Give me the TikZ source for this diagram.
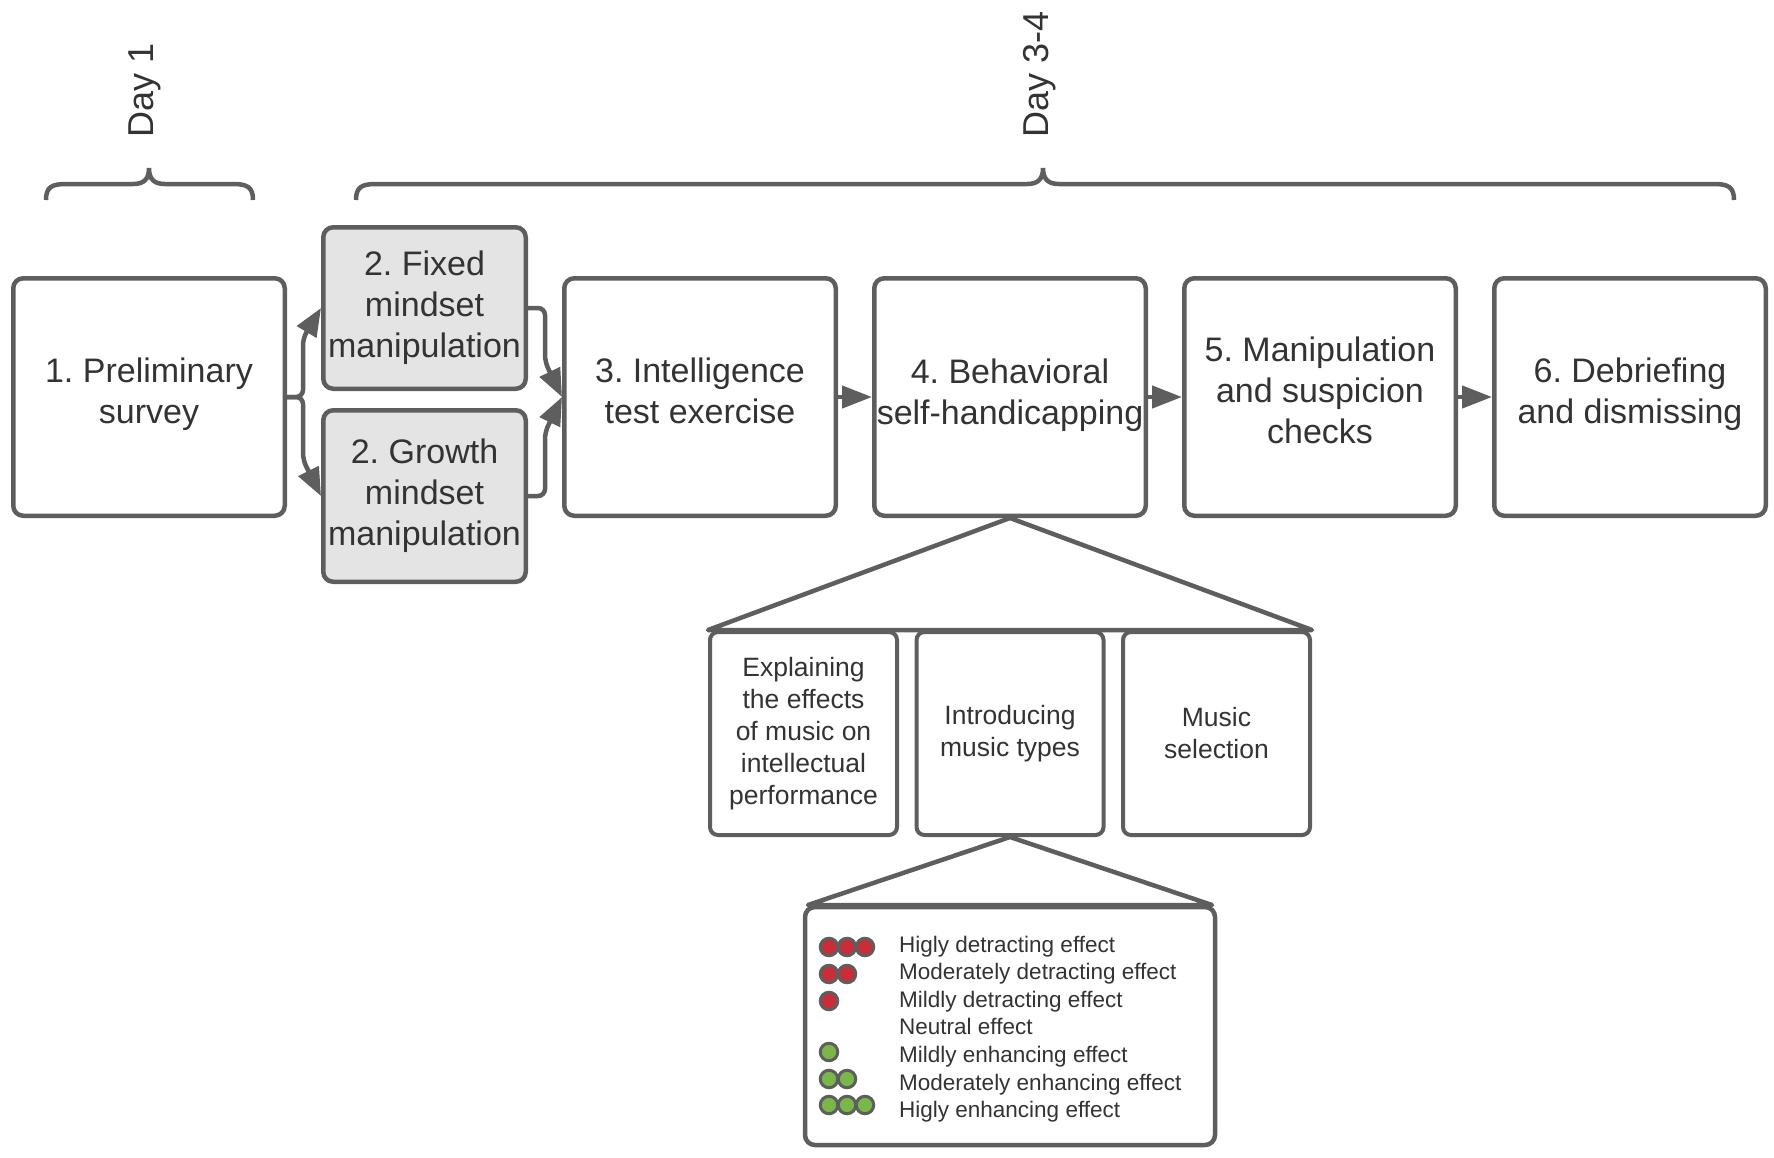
\documentclass[tikz,border=0pt]{standalone}
\usepackage{fontspec}
\setmainfont{Liberation Sans}
\usetikzlibrary{arrows.meta}
\frenchspacing
\definecolor{ln}{HTML}{5E5E5E}
\definecolor{tx}{HTML}{333333}
\definecolor{gfill}{HTML}{E4E4E4}
\definecolor{rdot}{HTML}{C92D39}
\definecolor{gdot}{HTML}{7AB648}
\newcommand{\boxlines}[2][5pt]{\raisebox{0pt}[\height][\dimexpr\depth+#1\relax]{\begin{tabular}{@{}c@{}}#2\end{tabular}}}
\begin{document}
\begin{tikzpicture}[x=1pt,y=-1pt,
  mainbox/.style={draw=ln, line width=4.5pt, rounded corners=10pt, fill=white, text=tx, align=center,
    font=\fontsize{34}{41}\selectfont, inner sep=0pt, minimum width=271.5pt, minimum height=237.5pt},
  manbox/.style={mainbox, fill=gfill, minimum width=202.5pt},
  subbox/.style={draw=ln, line width=4pt, rounded corners=8pt, fill=white, text=tx, align=center,
    font=\fontsize{26.5}{32}\selectfont, inner sep=0pt, minimum width=187pt, minimum height=203pt},
  legbox/.style={draw=ln, line width=4.5pt, rounded corners=10pt, fill=white, inner sep=0pt,
    minimum width=410pt, minimum height=238pt},
  daytext/.style={text=tx, font=\fontsize{36}{40}\selectfont, rotate=90, anchor=west, inner sep=0pt},
  legtext/.style={text=tx, font=\fontsize{22.5}{27}\selectfont, anchor=base west, inner sep=0pt},
  brace/.style={draw=ln, line width=4.5pt},
  conn/.style={draw=ln, line width=4.5pt, -{Triangle[length=30pt,width=22pt]}},
  sconn/.style={draw=ln, line width=4.5pt, rounded corners=7pt, -{Triangle[length=28pt,width=22pt]}},
  link/.style={draw=ln, line width=4.5pt},
  rd/.style={circle, draw=ln, line width=3pt, fill=rdot, minimum size=17.5pt, inner sep=0pt},
  gd/.style={circle, draw=ln, line width=3pt, fill=gdot, minimum size=17.5pt, inner sep=0pt}
]
\useasboundingbox (0,0) rectangle (1774,1157);

% day labels and braces
\node[daytext] (day1) at (145,138) {Day 1};
\node[daytext] (day34) at (1040,138) {Day 3-4};
\draw[brace] (46,200) .. controls (46,187) and (52,184) .. (66,184) -- (133,184)
  .. controls (143,184) and (149,180) .. (149,168)
  .. controls (149,180) and (155,184) .. (165,184) -- (233,184)
  .. controls (247,184) and (253,187) .. (253,200);
\draw[brace] (356,200) .. controls (356,187) and (362,184) .. (376,184) -- (1027,184)
  .. controls (1037,184) and (1043,180) .. (1043,168)
  .. controls (1043,180) and (1049,184) .. (1059,184) -- (1714,184)
  .. controls (1728,184) and (1734,187) .. (1734,200);

% triangles (drawn first, boxes on top)
\coordinate (t1l) at (708,630);
\coordinate (t1r) at (1312,630);
\draw[link, line join=round] (1010,518) -- (t1l) -- (t1r) -- cycle;
\draw[link, line join=round] (1010,837) -- (808,905) -- (1212,905) -- cycle;

% main boxes
\node[mainbox] (b1) at (149,397) {\boxlines{1. Preliminary\\survey}};
\node[manbox, minimum height=161.5pt] (fx) at (424.5,308) {\boxlines[0pt]{2. Fixed\\mindset\\manipulation}};
\node[manbox, minimum height=171.5pt] (gr) at (424.5,496) {\boxlines[0pt]{2. Growth\\mindset\\manipulation}};
\node[mainbox] (b3) at (700,397) {\boxlines{3. Intelligence\\test exercise}};
\node[mainbox] (b4) at (1010,397) {\boxlines[3pt]{4. Behavioral\\self-handicapping}};
\node[mainbox] (b5) at (1320,397) {\boxlines{5. Manipulation\\and suspicion\\checks}};
\node[mainbox] (b6) at (1630,397) {\boxlines{6. Debriefing\\and dismissing}};

% sub boxes
\node[subbox] (s1) at (803.5,733.5) {Explaining\\the effects\\of music on\\intellectual\\performance};
\node[subbox] (s2) at (1010,733.5) {Introducing\\music types};
\node[subbox] (s3) at (1216.5,733.5) {Music\\selection};

% legend
\node[legbox] (leg) at (1010,1026) {};
\node[legtext] (l1) at (899,952) {Higly detracting effect};
\node[legtext] (l2) at (899,979.6) {Moderately detracting effect};
\node[legtext] (l3) at (899,1007.2) {Mildly detracting effect};
\node[legtext] (l4) at (899,1034.8) {Neutral effect};
\node[legtext] (l5) at (899,1062.4) {Mildly enhancing effect};
\node[legtext] (l6) at (899,1090) {Moderately enhancing effect};
\node[legtext] (l7) at (899,1117.6) {Higly enhancing effect};
\node[rd] (r1a) at (829,947) {};
\node[rd] (r1b) at (847,947) {};
\node[rd] (r1c) at (865,947) {};
\node[rd] (r2a) at (829,974) {};
\node[rd] (r2b) at (847,974) {};
\node[rd] (r3a) at (829,1001) {};
\node[gd] (g1a) at (829,1052) {};
\node[gd] (g2a) at (829,1079) {};
\node[gd] (g2b) at (847,1079) {};
\node[gd] (g3a) at (829,1105) {};
\node[gd] (g3b) at (847,1105) {};
\node[gd] (g3c) at (865,1105) {};

% connectors
\draw[sconn] (b1.east) -- (303,397) -- (303,338) -- (fx.west);
\draw[sconn] (b1.east) -- (303,397) -- (303,460) -- (gr.west);
\draw[sconn] (fx.east) -- (545,308) -- (545,362) -- (b3.west);
\draw[sconn] (gr.east) -- (545,496) -- (545,432) -- (b3.west);
\draw[conn] (b3.east) -- (b4.west);
\draw[conn] (b4.east) -- (b5.west);
\draw[conn] (b5.east) -- (b6.west);
\end{tikzpicture}
\end{document}
